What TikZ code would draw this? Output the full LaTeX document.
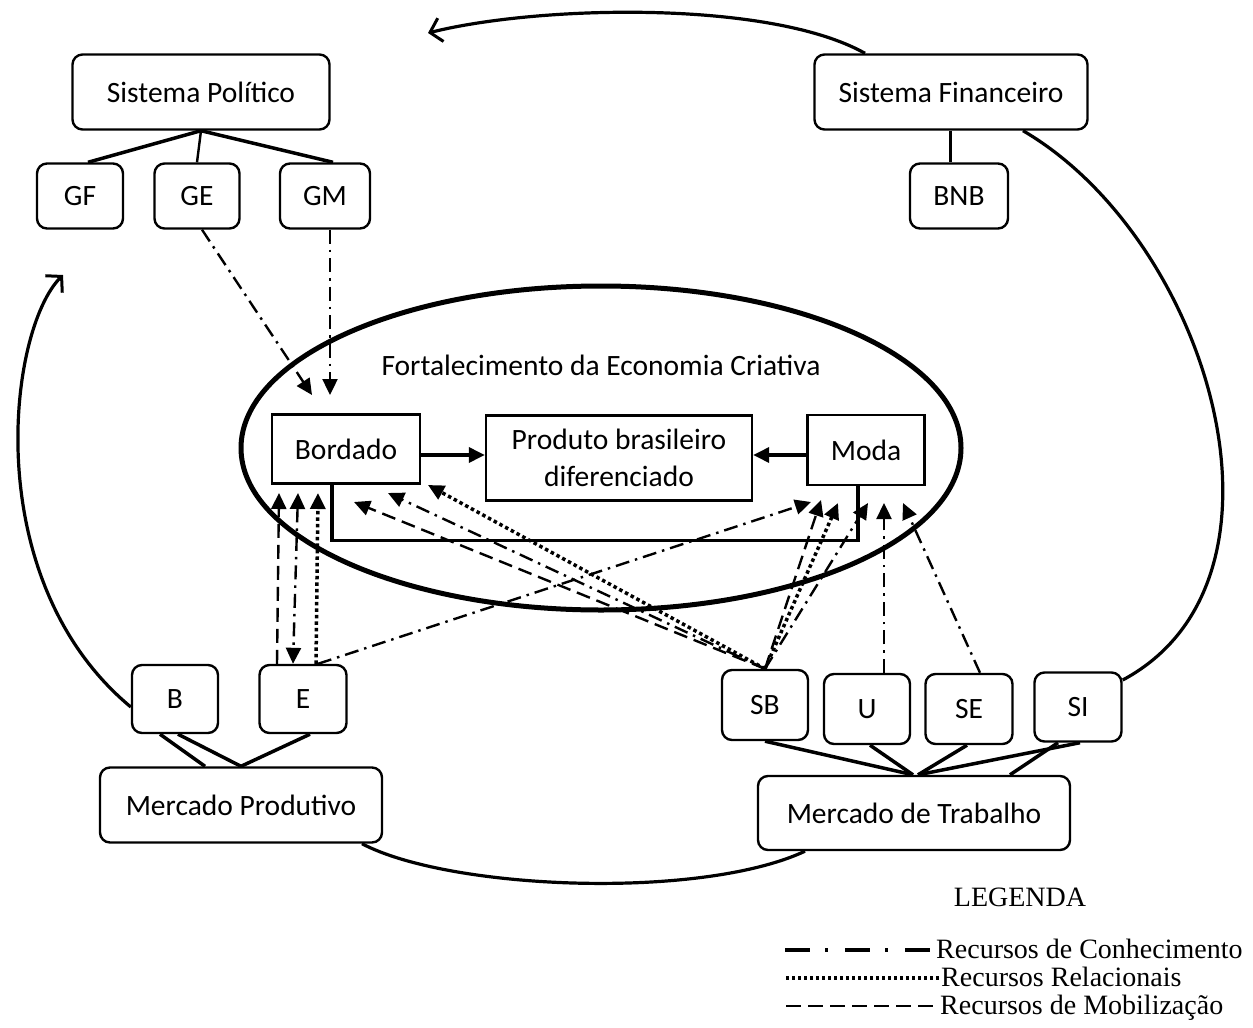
\documentclass[tikz,border=0pt]{standalone}
\usepackage{fontspec}
\setmainfont{Carlito}
\newfontfamily\timesf{Liberation Serif}
\usetikzlibrary{arrows.meta}
\begin{document}
\begin{tikzpicture}[x=1pt,y=-1pt,
  every node/.style={font=\fontsize{29.5}{37}\selectfont},
  rbox/.style={draw, line width=2.4pt, rounded corners=10pt, align=center, inner sep=0pt},
  sbox/.style={draw, line width=2.4pt, align=center, inner sep=0pt},
  tie/.style={line width=3.5pt},
  tipA/.style={-{Triangle[length=16pt,width=15pt]}},
  know/.style={line width=2.4pt, dash pattern=on 14pt off 6pt on 2.5pt off 6pt},
  mob/.style={line width=2.4pt, dash pattern=on 14pt off 7pt},
  rel/.style={line width=3.5pt, dash pattern=on 3.5pt off 3pt},
  cyc/.style={line width=3.2pt},
  barb/.style={-{Straight Barb[length=11pt,width=24pt,line width=3pt]}},
  legtext/.style={font=\timesf\fontsize{28}{32}\selectfont, inner sep=0pt}
]
\useasboundingbox (0,0) rectangle (1253,1028);

% ellipse
\draw[line width=5pt] (601,448) ellipse [x radius=360pt, y radius=162pt];
\node (FEC) at (601,365) {Fortalecimento da Economia Criativa};

% boxes
\node[rbox, minimum width=257pt, minimum height=75pt] (SP) at (201,92) {Sistema Político};
\node[rbox, minimum width=273pt, minimum height=75pt] (SF) at (951,92) {Sistema Financeiro};
\node[rbox, minimum width=86pt, minimum height=65pt] (GF) at (80,196) {GF};
\node[rbox, minimum width=85pt, minimum height=65pt] (GE) at (197,196) {GE};
\node[rbox, minimum width=90pt, minimum height=65pt] (GM) at (325,196) {GM};
\node[rbox, minimum width=98pt, minimum height=65pt] (BNB) at (959,196) {BNB};

\node[sbox, minimum width=148pt, minimum height=69pt] (Bordado) at (346,449) {Bordado};
\node[sbox, minimum width=266pt, minimum height=85pt] (Produto) at (619,458) {Produto brasileiro\\diferenciado};
\node[sbox, minimum width=117pt, minimum height=70pt] (Moda) at (866,450) {Moda};

\node[rbox, minimum width=86pt, minimum height=68pt] (B) at (175,699) {B};
\node[rbox, minimum width=87pt, minimum height=68pt] (E) at (303,699) {E};
\node[rbox, minimum width=282pt, minimum height=75pt] (MP) at (241,805) {Mercado Produtivo};

\node[rbox, minimum width=86pt, minimum height=70pt] (SB) at (765,705) {SB};
\node[rbox, minimum width=86pt, minimum height=70pt] (U) at (867,709) {U};
\node[rbox, minimum width=87pt, minimum height=70pt] (SE) at (969,709) {SE};
\node[rbox, minimum width=87pt, minimum height=69pt] (SI) at (1078,707) {SI};
\node[rbox, minimum width=312pt, minimum height=74pt] (MT) at (914,813) {Mercado de Trabalho};

% hierarchy ties
\draw[tie] (SP.south) -- ([xshift=8pt]GF.north);
\draw[line width=2.4pt] (SP.south) -- (GE.north);
\draw[tie] (SP.south) -- ([xshift=8pt]GM.north);
\draw[line width=3pt] ([xshift=-1pt]SF.south) -- ([xshift=-9pt]BNB.north);

\draw[tie] ([xshift=-15pt]B.south) -- ([xshift=-36pt]MP.north);
\draw[tie] ([xshift=3pt]B.south) -- (MP.north);
\draw[tie] ([xshift=7pt]E.south) -- (MP.north);

\draw[tie] (SB.south) -- ([xshift=-1pt]MT.north);
\draw[tie] ([xshift=3pt]U.south) -- ([xshift=-1pt]MT.north);
\draw[tie] ([xshift=-2pt]SE.south) -- ([xshift=4pt]MT.north);
\draw[tie] ([xshift=2pt]SI.south) -- ([xshift=4pt]MT.north);
\draw[tie] ([xshift=-20pt]SI.south) -- ([xshift=96pt]MT.north);

% bracket
\draw[tie] ([xshift=-14pt]Bordado.south) -- ++(0,56) -| ([xshift=-8pt]Moda.south);

% solid arrows to product
\draw[tipA, line width=3.5pt] ([yshift=-6pt]Bordado.east) -- ([yshift=3pt]Produto.west);
\draw[tipA, line width=3.5pt] ([yshift=-5pt]Moda.west) -- ([yshift=3pt]Produto.east);

% arrow tip coordinates
\coordinate (tGE) at (312,395);
\coordinate (tGM) at (330,395);
\coordinate (tE1) at (279,493);
\coordinate (tE2) at (298,493);
\coordinate (tE3) at (318,493);
\coordinate (tB1) at (354,502);
\coordinate (tB2) at (388,493);
\coordinate (tB3) at (428,485);
\coordinate (tM1) at (811,502);
\coordinate (tM2) at (821,500);
\coordinate (tM3) at (838,503);
\coordinate (tM4) at (868,503);
\coordinate (tM5) at (884,503);
\coordinate (tM6) at (903,503);

% resource flows
\draw[know, tipA] ([xshift=5pt]GE.south) -- (tGE);
\draw[know, tipA] ([xshift=5pt]GM.south) -- (tGM);

\draw[mob, tipA] ([xshift=-26pt]E.north) -- (tE1);
\draw[know, {Triangle[length=16pt,width=15pt]}-{Triangle[length=16pt,width=15pt]}] (tE2) -- ([xshift=-10pt]E.north);
\draw[rel, tipA] ([xshift=13pt]E.north) -- (tE3);
\draw[know, tipA] ([xshift=15pt]E.north) -- (tM1);

\draw[mob, tipA] (SB.north) -- (tB1);
\draw[know, tipA] (SB.north) -- (tB2);
\draw[rel, tipA] (SB.north) -- (tB3);
\draw[mob, tipA] (SB.north) -- (tM2);
\draw[rel, tipA] (SB.north) -- (tM3);
\draw[know, tipA] (SB.north) -- (tM4);
\draw[know, tipA] ([xshift=17pt]U.north) -- (tM5);
\draw[know, tipA] ([xshift=11pt]SE.north) -- (tM6);

% big cycle arcs
\coordinate (tTop) at (428,33);
\coordinate (tLeft) at (63,275);
\draw[cyc, barb] ([xshift=-86pt]SF.north) .. controls (770,0) and (540,5) .. (tTop);
\draw[cyc, barb] ([yshift=-8pt]B.west) .. controls (-22,580) and (8,330) .. (tLeft);
\draw[cyc] ([xshift=72pt]SF.south) .. controls (1210,240) and (1310,580) .. ([yshift=27pt]SI.east);
\draw[cyc] ([xshift=121pt]MP.south) .. controls (450,890) and (700,900) .. ([xshift=-109pt]MT.south);

% legend
\node[legtext] (LEG) at (1020,897) {LEGENDA};
\coordinate (l1a) at (785,950);
\coordinate (l1b) at (932,950);
\coordinate (l2a) at (786,978);
\coordinate (l2b) at (940,978);
\coordinate (l3a) at (786,1006);
\coordinate (l3b) at (938,1006);
\draw[line width=4pt, dash pattern=on 25pt off 15pt on 3pt off 17pt] (l1a) -- (l1b);
\draw[line width=4pt, dash pattern=on 3pt off 3pt] (l2a) -- (l2b);
\draw[line width=2pt, dash pattern=on 15pt off 7pt] (l3a) -- (l3b);
\node[legtext, anchor=base west] (L1) at (936,958) {Recursos de Conhecimento};
\node[legtext, anchor=base west] (L2) at (941,986) {Recursos Relacionais};
\node[legtext, anchor=base west] (L3) at (940,1014) {Recursos de Mobilização};
\end{tikzpicture}
\end{document}
